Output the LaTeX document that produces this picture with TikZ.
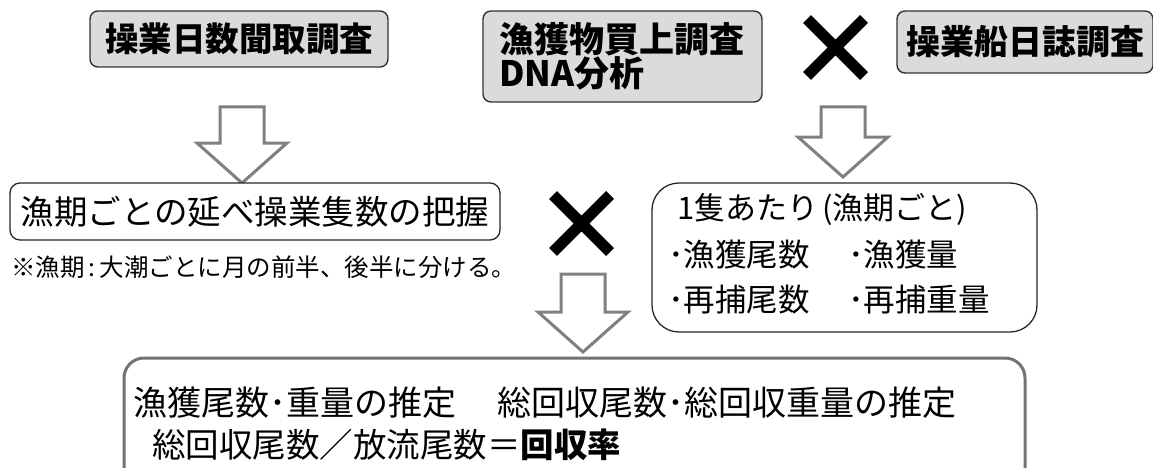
\documentclass[tikz,border=0pt]{standalone}
\usepackage{fontspec}
\setmainfont{Noto Sans CJK JP}
\begin{document}
\begin{tikzpicture}[x=1pt,y=-1pt,
  graybox/.style={draw=black!80, fill=black!14, rounded corners=8, line width=1.4, inner sep=0},
  whitebox/.style={draw=black!85, fill=white, line width=1.3, inner sep=0},
  bigbox/.style={draw=black!55, fill=white, rounded corners=20, line width=3, inner sep=0},
  txt/.style={inner sep=0, anchor=west},
  xmark/.style={line width=11, black},
  arrowline/.style={draw=black!50, fill=white, line width=3, line join=miter},
  hollow/.pic={\draw[arrowline] (-22,0) -- (22,0) -- (22,#1-40) -- (45,#1-40) -- (0,#1) -- (-45,#1-40) -- (-22,#1-40) -- cycle;}
]
\useasboundingbox (0,0) rectangle (1153,468);

% top row
\node[graybox, minimum width=298, minimum height=56] (b1) at (239,39)
  {\fontsize{33.5}{40}\selectfont\bfseries 操業日数聞取調査};
\node[graybox, minimum width=279, minimum height=91, text width=247, inner xsep=16, align=left] (b2) at (622.5,56.5)
  {\fontsize{35}{45}\selectfont\bfseries 漁獲物買上調査\\DNA分析};
\draw[xmark] (807,19) -- (864,76) (807,76) -- (864,19);
\node[graybox, minimum width=256, minimum height=62] (b3) at (1025,42)
  {\fontsize{34}{40}\selectfont\bfseries 操業船日誌調査};

% arrows
\pic at (242,107) {hollow=76};
\pic at (843,107) {hollow=70};
\pic at (583,274) {hollow=78};

% middle row
\node[whitebox, rounded corners=10, minimum width=490, minimum height=57] (b4) at (255,211.5)
  {\fontsize{33.5}{40}\selectfont 漁期ごとの延べ操業隻数の把握};
\node[txt] (note) at (11,267) {\fontsize{24.5}{28}\selectfont ※漁期\,:\,大潮ごとに月の前半、後半に分ける。};
\draw[xmark] (553,195) -- (610,252) (553,252) -- (610,195);
\node[whitebox, rounded corners=27, minimum width=385, minimum height=149] (b5) at (844.5,257.5) {};
\node[txt] (b5a) at (677,209) {\fontsize{31}{36}\selectfont 1隻あたり\hspace{4pt}(漁期ごと)};
\node[txt] (b5b) at (668,255) {\fontsize{31.5}{36}\selectfont ･漁獲尾数};
\node[txt] (b5c) at (848,255) {\fontsize{31.5}{36}\selectfont ･漁獲量};
\node[txt] (b5d) at (668,300) {\fontsize{31.5}{36}\selectfont ･再捕尾数};
\node[txt] (b5e) at (848,300) {\fontsize{31.5}{36}\selectfont ･再捕重量};

% bottom box
\node[bigbox, minimum width=901, minimum height=140] (b6) at (574.5,428) {};
\node[txt] (b6a) at (133,403) {\fontsize{34}{40}\selectfont 漁獲尾数･重量の推定};
\node[txt] (b6b) at (497,403) {\fontsize{34}{40}\selectfont 総回収尾数･総回収重量の推定};
\node[txt] (b6c) at (152,445) {\fontsize{33.5}{40}\selectfont 総回収尾数／放流尾数＝\textbf{回収率}};
\end{tikzpicture}
\end{document}
